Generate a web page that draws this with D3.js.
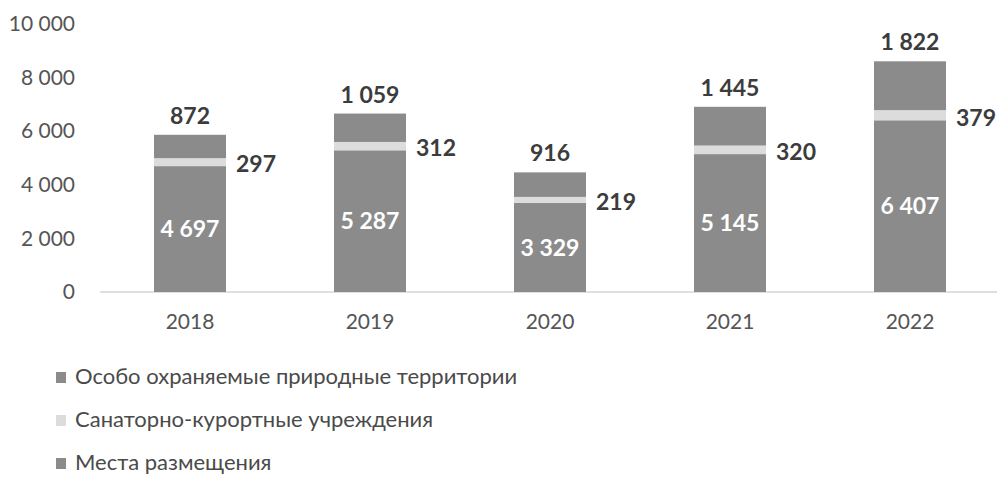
<!DOCTYPE html>
<html><head><meta charset="utf-8">
<script src="https://cdn.jsdelivr.net/npm/d3@7"></script>
<style>body{margin:0;background:#fff;}svg{display:block;font-family:Lato,"Open Sans",sans-serif;}</style>
</head><body><svg id="c" width="997" height="477"></svg>
<script>
const years = ["2018","2019","2020","2021","2022"];
const placements = [4697, 5287, 3329, 5145, 6407];
const sanatoriums = [297, 312, 219, 320, 379];
const protectedAreas = [872, 1059, 916, 1445, 1822];
const yTicks = [0, 2000, 4000, 6000, 8000, 10000];
const seriesNames = ["Особо охраняемые природные территории", "Санаторно-курортные учреждения", "Места размещения"];

const svg = d3.select("#c");
const x = d3.scaleBand().domain(years).range([100, 1000]).paddingInner(0.6).paddingOuter(0.3);
const y = d3.scaleLinear().domain([0, 10000]).range([292, 24]);
const fmt = v => d3.format(",")(v).replace(/,/g, " ");
const dark = "#8b8b8b", light = "#dcdcdc";

// baseline
svg.append("line").attr("x1", 100).attr("x2", 997).attr("y1", y(0)).attr("y2", y(0))
  .attr("stroke", "#d4d4d4").attr("stroke-width", 1.5);

// y axis labels
const yAxis = d3.axisLeft(y).tickValues(yTicks).tickFormat(fmt).tickSize(0).tickPadding(0);
const ya = svg.append("g").attr("transform", "translate(75,0)").call(yAxis);
ya.select(".domain").remove();
ya.selectAll("text").attr("font-size", 21).attr("fill", "#555").attr("font-family", "Lato");

// x axis labels
const xAxis = d3.axisBottom(x).tickSize(0).tickPadding(0);
const xa = svg.append("g").attr("transform", `translate(0,${y(0)+22})`).call(xAxis);
xa.select(".domain").remove();
xa.selectAll("text").attr("font-size", 21).attr("fill", "#555").attr("font-family", "Lato");

const data = years.map((yr, i) => ({yr, a: placements[i], b: sanatoriums[i], c: protectedAreas[i]}));
const stack = d3.stack().keys(["a", "b", "c"])(data);
const colors = {a: dark, b: light, c: dark};
stack.forEach(layer => {
  svg.append("g").selectAll("rect").data(layer).join("rect")
    .attr("x", d => x(d.data.yr)).attr("width", x.bandwidth())
    .attr("y", d => y(d[1])).attr("height", d => y(d[0]) - y(d[1]))
    .attr("fill", colors[layer.key]);
});

// labels
const lab = svg.append("g").attr("font-weight", "bold").attr("font-size", 23);
stack[0].forEach(d => lab.append("text").attr("x", x(d.data.yr) + x.bandwidth()/2)
  .attr("y", (y(d[0]) + y(d[1]))/2).attr("dy", "0.36em").attr("text-anchor", "middle")
  .attr("fill", "#fff").text(fmt(d.data.a)));
stack[1].forEach(d => lab.append("text").attr("x", x(d.data.yr) + x.bandwidth() + 10)
  .attr("y", (y(d[0]) + y(d[1]))/2).attr("dy", "0.45em").attr("text-anchor", "start")
  .attr("fill", "#3c3c3c").text(fmt(d.data.b)));
stack[2].forEach(d => lab.append("text").attr("x", x(d.data.yr) + x.bandwidth()/2)
  .attr("y", y(d[1]) - 11).attr("text-anchor", "middle")
  .attr("fill", "#3c3c3c").text(fmt(d.data.c)));

// legend
const legColors = [dark, light, dark];
const lg = svg.append("g");
seriesNames.forEach((n, i) => {
  const yy = 377 + i * 43;
  lg.append("rect").attr("x", 56).attr("y", yy - 5).attr("width", 10).attr("height", 11).attr("fill", legColors[i]);
  lg.append("text").attr("x", 75).attr("y", yy).attr("dy", "0.34em").attr("font-size", 22)
    .attr("fill", "#4a4a4a").text(n);
});
</script></body></html>
